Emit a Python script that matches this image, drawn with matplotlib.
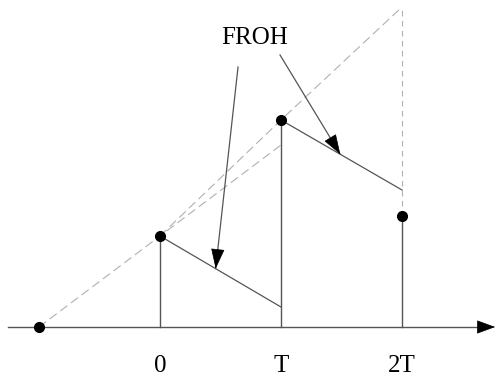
import matplotlib
matplotlib.use("Agg")
import matplotlib.pyplot as plt

# sample instants (in units of T) and sampled heights
sample_t = [-1, 0, 1, 2]
sample_y = [0.0, 0.91, 2.07, 1.11]

# decaying (FROH) segments between samples
decay_t = [[0, 1], [1, 2]]
decay_y = [[0.91, 0.20], [2.07, 1.37]]

# dashed gray ramps
ramp_a_t = [0, 1, 2]
ramp_a_y = [0.91, 2.07, 3.20]
ramp_b_t = [-1, 1]
ramp_b_y = [0.0, 1.82]

tick_t = [0, 1, 2]
tick_labels = ["0", "T", "2T"]

label = "FROH"

plt.rcParams['font.family'] = ['Liberation Serif', 'DejaVu Serif']

fig = plt.figure(figsize=(4.96, 3.82), dpi=100)
ax = fig.add_axes([0, 0, 1, 1])
ax.set_xlim(-160 / 121, 336 / 121)
ax.set_ylim(-0.55, 3.27)
ax.axis('off')

gray = '#555555'
light = '#b0b0b0'


def head(tip, start, hl=0.65, hw=0.22):
    # black filled arrow head at tip, pointing away from start
    back = (tip[0] - 0.02 * (tip[0] - start[0]), tip[1] - 0.02 * (tip[1] - start[1]))
    ax.annotate('', xy=tip, xytext=back,
                arrowprops=dict(arrowstyle=f'-|>,head_length={hl},head_width={hw}',
                                mutation_scale=20, fc='black', ec='black', lw=0.5,
                                shrinkA=0, shrinkB=0), zorder=4)


# dashed ramps
ax.plot(ramp_a_t, ramp_a_y, color=light, lw=0.8, ls=(0, (8, 4)), zorder=1)
ax.plot(ramp_b_t, ramp_b_y, color=light, lw=0.8, ls=(0, (8, 4)), zorder=1)
ax.plot([ramp_a_t[-1], ramp_a_t[-1]], [sample_y[-1], ramp_a_y[-1]],
        color=light, lw=0.8, ls=(0, (5, 4)), zorder=1)

# horizontal axis with arrow
ax.plot([-1.256, 2.70], [0, 0], color=gray, lw=1, zorder=2)
head((2.77, 0), (-1.256, 0), hl=0.6, hw=0.22)

# stems
for t, y in zip(sample_t[1:], sample_y[1:]):
    ax.plot([t, t], [0, y], color=gray, lw=1, zorder=2)

# decay segments
for ts, ys in zip(decay_t, decay_y):
    ax.plot(ts, ys, color=gray, lw=0.9, zorder=2)

# sample dots
ax.plot(sample_t, sample_y, 'o', color='black', ms=7, zorder=3)

# FROH label and arrows
ax.text(0.785, 2.89, label, fontsize=18, ha='center', va='center')
tips = [(0.46, 0.91 - 0.71 * 0.46), (1.49, 2.07 - 0.70 * 0.49)]
starts = [(0.645, 2.60), (0.992, 2.72)]
for s, tip in zip(starts, tips):
    ax.plot([s[0], tip[0]], [s[1], tip[1]], color=gray, lw=0.9, zorder=2)
    head(tip, s)

# tick labels
for t, lab in zip(tick_t, tick_labels):
    ax.text(t, -0.39, lab, fontsize=18, ha='center', va='center')

fig.savefig('out.png', dpi=100)
